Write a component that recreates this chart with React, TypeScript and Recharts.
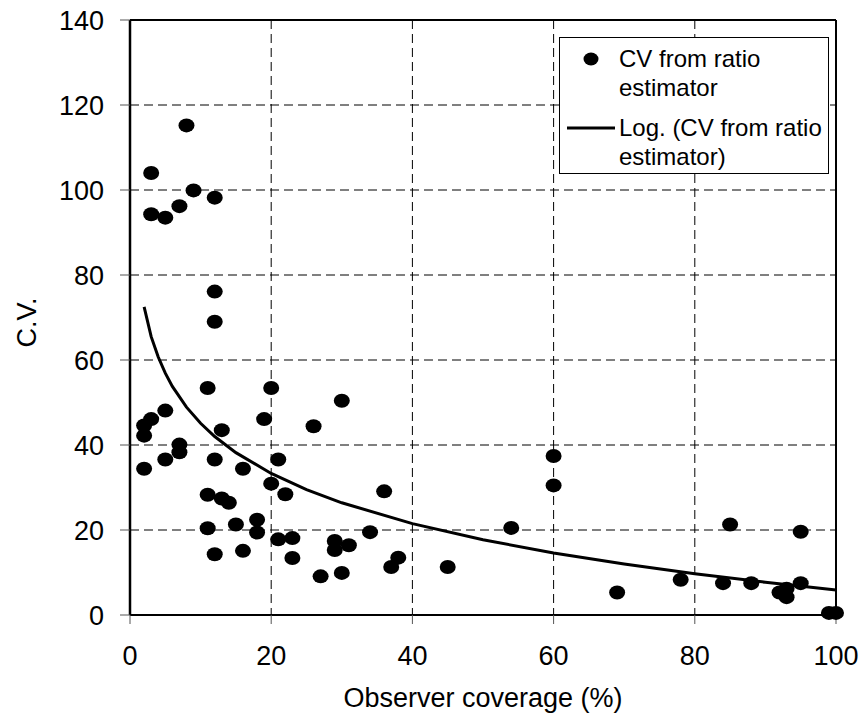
import React from "react";
import {
  ScatterChart,
  Scatter,
  XAxis,
  YAxis,
  CartesianGrid,
  ReferenceLine,
} from "recharts";

// coverage (%) and CV
const coverage = [
  3, 3, 5, 7, 8, 9, 12, 12, 12, 11, 20, 5, 3, 2, 2, 19, 13, 26, 7, 7, 5, 2,
  12, 16, 21, 20, 22, 11, 13, 14, 18, 18, 15, 11, 21, 23, 12, 16, 23, 30, 36,
  34, 29, 29, 31, 38, 37, 27, 30, 45, 54, 60, 60, 85, 95, 69, 78, 84, 88, 95,
  92, 93, 93, 99, 100,
];
const cv = [
  104, 94.3, 93.5, 96.2, 115.2, 99.9, 98.2, 76.1, 69, 53.4, 53.4, 48.1, 46.1,
  44.6, 42.2, 46.1, 43.5, 44.4, 40.1, 38.3, 36.6, 34.4, 36.6, 34.4, 36.6, 30.9,
  28.4, 28.3, 27.4, 26.4, 22.4, 19.4, 21.3, 20.4, 17.8, 18.1, 14.3, 15.1, 13.4,
  50.4, 29.1, 19.5, 17.4, 15.3, 16.4, 13.5, 11.3, 9.1, 9.9, 11.3, 20.5, 37.4,
  30.5, 21.3, 19.6, 5.3, 8.3, 7.5, 7.5, 7.5, 5.3, 4.2, 6.2, 0.5, 0.5,
];

// log trendline, read at these x positions
const trendX = [2, 3, 4, 5, 6, 8, 10, 12, 15, 20, 25, 30, 40, 50, 60, 70, 80, 90, 100];
const trendY = [
  72.5, 65.5, 60.7, 56.9, 53.8, 48.9, 45.1, 42.0, 38.2, 33.3, 29.5, 26.4, 21.5,
  17.7, 14.6, 12.0, 9.7, 7.7, 5.9,
];

const xTicks = [0, 20, 40, 60, 80, 100];
const yTicks = [0, 20, 40, 60, 80, 100, 120, 140];

const points = coverage.map((x, i) => ({ x, y: cv[i] }));
const trend = trendX.map((x, i) => ({ x, y: trendY[i] }));

const FONT = '"Liberation Sans", Arial, sans-serif';

const Dot = (props: any) => (
  <ellipse cx={props.cx} cy={props.cy} rx={8} ry={7} fill="#000" />
);

const NoDot = () => <g />;

function LegendBox() {
  const row: React.CSSProperties = { height: 29, lineHeight: "29px" };
  return (
    <div
      style={{
        position: "absolute",
        left: 559,
        top: 37,
        width: 268,
        height: 135,
        border: "1.5px solid #000",
        background: "#fff",
        fontFamily: FONT,
        fontSize: 24,
        color: "#000",
      }}
    >
      <svg
        width={60}
        height={135}
        style={{ position: "absolute", left: 0, top: 0 }}
      >
        <ellipse cx={31} cy={21} rx={7.5} ry={6.5} fill="#000" />
        <line x1={7} x2={55} y1={90} y2={90} stroke="#000" strokeWidth={3} />
      </svg>
      <div style={{ position: "absolute", left: 59, top: 6 }}>
        <div style={row}>CV from ratio</div>
        <div style={row}>estimator</div>
      </div>
      <div style={{ position: "absolute", left: 59, top: 75 }}>
        <div style={row}>Log. (CV from ratio</div>
        <div style={row}>estimator)</div>
      </div>
    </div>
  );
}

export default function App() {
  return (
    <div
      style={{
        position: "absolute",
        left: 0,
        top: 0,
        width: 864,
        height: 724,
        background: "#fff",
        fontFamily: FONT,
      }}
    >
      <ScatterChart
        width={864}
        height={724}
        margin={{ top: 20, right: 28, bottom: 0, left: 0 }}
      >
        <CartesianGrid stroke="#000" strokeDasharray="9 5" />
        <XAxis
          type="number"
          dataKey="x"
          domain={[0, 100]}
          ticks={xTicks}
          height={109}
          tickSize={9}
          tickMargin={22}
          tick={{ fontSize: 27, fill: "#000", fontFamily: FONT }}
          axisLine={{ stroke: "#000", strokeWidth: 2 }}
          tickLine={{ stroke: "#555" }}
          label={{
            content: (p: any) => (
              <text
                x={p.viewBox.x + p.viewBox.width / 2}
                y={p.viewBox.y + 92}
                textAnchor="middle"
                fontSize={27}
                fontFamily={FONT}
                fill="#000"
              >
                Observer coverage (%)
              </text>
            ),
          }}
        />
        <YAxis
          type="number"
          dataKey="y"
          domain={[0, 140]}
          ticks={yTicks}
          width={130}
          tickSize={10}
          tickMargin={16}
          tick={{ fontSize: 27, fill: "#000", fontFamily: FONT }}
          axisLine={{ stroke: "#000", strokeWidth: 2.5 }}
          tickLine={{ stroke: "#555" }}
          label={{
            content: (p: any) => {
              const cx = p.viewBox.x + 27;
              const cy = p.viewBox.y + p.viewBox.height / 2 + 5;
              return (
                <text
                  x={cx}
                  y={cy}
                  transform={`rotate(-90 ${cx} ${cy})`}
                  textAnchor="middle"
                  dominantBaseline="central"
                  fontSize={27}
                  fontFamily={FONT}
                  fill="#000"
                >
                  C.V.
                </text>
              );
            },
          }}
        />
        <ReferenceLine y={140} stroke="#000" strokeWidth={2} />
        <ReferenceLine x={100} stroke="#000" strokeWidth={2} />
        <Scatter
          data={points}
          shape={Dot}
          isAnimationActive={false}
        />
        <Scatter
          data={trend}
          line={{ stroke: "#000", strokeWidth: 3 }}
          lineType="joint"
          shape={NoDot}
          isAnimationActive={false}
        />
      </ScatterChart>
      <LegendBox />
    </div>
  );
}
